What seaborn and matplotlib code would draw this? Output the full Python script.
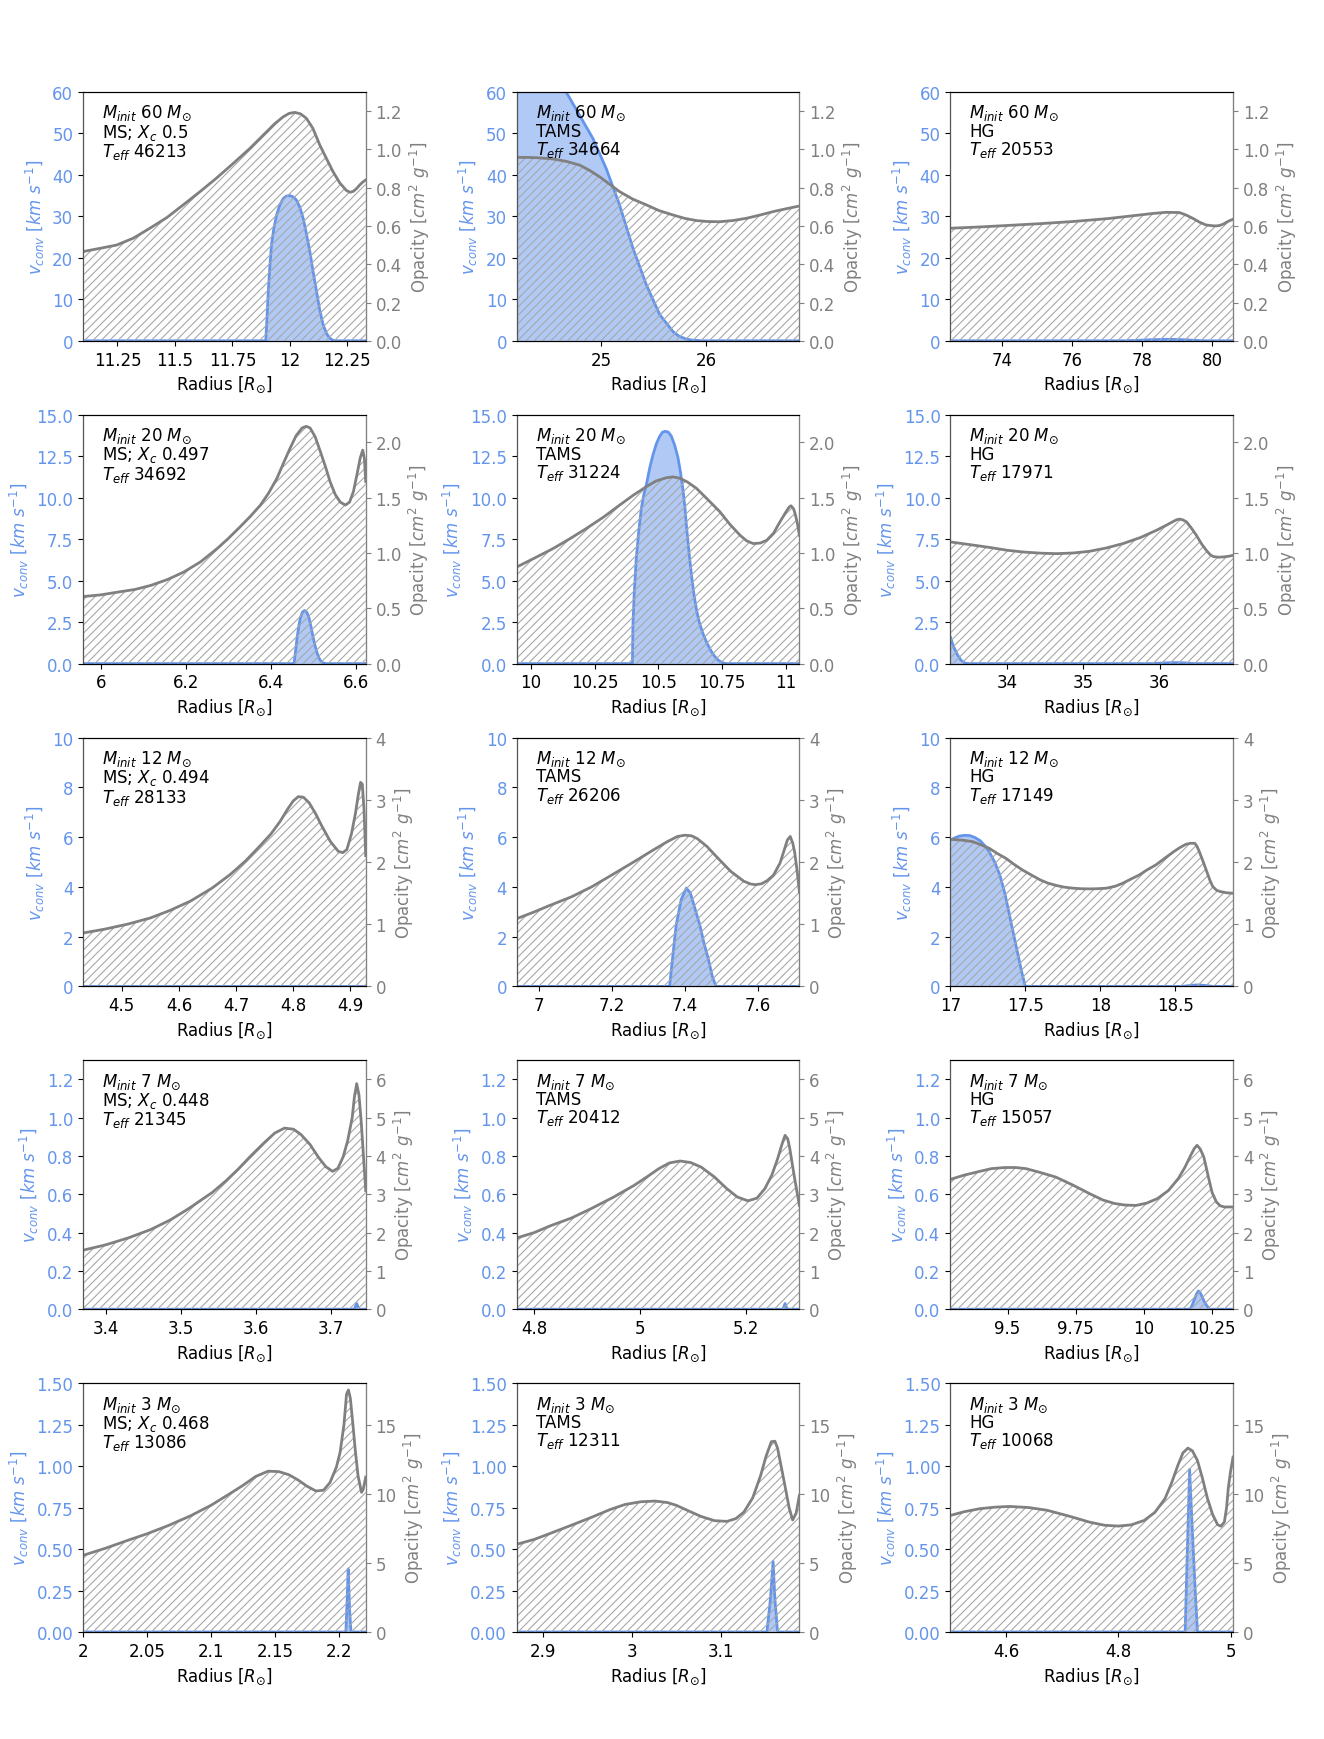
import matplotlib
matplotlib.use("Agg")
import matplotlib.pyplot as plt
import seaborn as sns
from matplotlib.ticker import FuncFormatter

# ---------------- data ----------------
# Row 1: 60 Msun
A1_rk = [11.10, 11.174, 11.246, 11.319, 11.391, 11.464, 11.536, 11.609, 11.68, 11.754, 11.826, 11.862, 11.899, 11.935, 11.971, 11.997, 12.022, 12.047, 12.072, 12.10, 12.13, 12.16, 12.188, 12.217, 12.246, 12.262, 12.275, 12.29, 12.304, 12.318, 12.33]
A1_k = [0.466, 0.483, 0.50, 0.536, 0.588, 0.643, 0.71, 0.779, 0.849, 0.927, 1.005, 1.048, 1.092, 1.135, 1.17, 1.188, 1.193, 1.185, 1.162, 1.11, 1.023, 0.95, 0.883, 0.825, 0.785, 0.776, 0.78, 0.795, 0.814, 0.83, 0.84]
A1_rv = [11.10, 11.895, 11.90, 11.906, 11.913, 11.92, 11.93, 11.942, 11.956, 11.971, 11.985, 12.0, 12.015, 12.029, 12.044, 12.058, 12.072, 12.087, 12.101, 12.116, 12.13, 12.145, 12.16, 12.174, 12.187, 12.2, 12.33]
A1_v = [0, 0, 5.0, 11.9, 18.0, 23.1, 27.0, 30.3, 32.7, 34.3, 34.9, 35.0, 34.7, 33.9, 32.1, 29.5, 25.8, 21.5, 16.7, 11.9, 7.4, 3.8, 1.7, 0.6, 0.15, 0, 0]

A2_rk = [24.197, 24.3, 24.4, 24.54, 24.67, 24.794, 24.89, 24.984, 25.08, 25.175, 25.3, 25.429, 25.55, 25.683, 25.79, 25.905, 26.01, 26.127, 26.25, 26.381, 26.51, 26.635, 26.76, 26.883]
A2_k = [0.958, 0.958, 0.956, 0.95, 0.937, 0.918, 0.89, 0.857, 0.818, 0.779, 0.74, 0.71, 0.68, 0.657, 0.64, 0.628, 0.623, 0.622, 0.628, 0.64, 0.657, 0.675, 0.69, 0.704]
A2_rv = [24.197, 24.4, 24.55, 24.667, 24.794, 24.921, 25.048, 25.175, 25.302, 25.429, 25.556, 25.683, 25.74, 25.81, 25.87, 25.97, 26.883]
A2_v = [74, 68, 63.5, 60, 54.4, 48.8, 41.5, 32.7, 22.3, 13.5, 6.3, 2.2, 1.1, 0.4, 0.15, 0, 0]

A3_rk = [72.53, 73.3, 74.12, 75.1, 76.02, 77.0, 77.92, 78.3, 78.68, 79.06, 79.25, 79.44, 79.63, 79.82, 80.0, 80.1, 80.2, 80.32, 80.44, 80.59]
A3_k = [0.588, 0.594, 0.602, 0.612, 0.623, 0.638, 0.657, 0.665, 0.671, 0.67, 0.657, 0.64, 0.62, 0.605, 0.601, 0.60, 0.602, 0.61, 0.623, 0.635]
A3_rv = [72.53, 77.5, 77.9, 78.2, 78.5, 78.7, 78.95, 79.2, 79.5, 79.8, 80.59]
A3_v = [0, 0, 0.12, 0.25, 0.32, 0.35, 0.33, 0.25, 0.1, 0, 0]

# Row 2: 20 Msun
B1_rk = [5.958, 5.999, 6.038, 6.08, 6.117, 6.157, 6.195, 6.235, 6.274, 6.30, 6.328, 6.352, 6.376, 6.395, 6.415, 6.43, 6.446, 6.46, 6.474, 6.484, 6.493, 6.505, 6.517, 6.53, 6.54, 6.552, 6.564, 6.576, 6.586, 6.595, 6.604, 6.611, 6.617, 6.621, 6.624]
B1_k = [0.606, 0.621, 0.645, 0.67, 0.706, 0.76, 0.827, 0.92, 1.04, 1.13, 1.236, 1.33, 1.433, 1.54, 1.676, 1.81, 1.948, 2.06, 2.13, 2.145, 2.13, 2.05, 1.918, 1.77, 1.645, 1.53, 1.46, 1.433, 1.46, 1.555, 1.72, 1.858, 1.93, 1.85, 1.645]
B1_rv = [5.958, 6.455, 6.459, 6.462, 6.466, 6.47, 6.475, 6.48, 6.485, 6.49, 6.495, 6.50, 6.505, 6.51, 6.515, 6.52, 6.525, 6.53, 6.624]
B1_v = [0, 0, 0.8, 1.5, 2.2, 2.75, 3.1, 3.2, 3.1, 2.8, 2.25, 1.6, 1.05, 0.6, 0.28, 0.1, 0.03, 0, 0]

B2_rk = [9.944, 10.015, 10.086, 10.15, 10.217, 10.285, 10.348, 10.40, 10.453, 10.49, 10.531, 10.557, 10.584, 10.615, 10.649, 10.695, 10.741, 10.78, 10.82, 10.846, 10.872, 10.90, 10.925, 10.952, 10.977, 11.0, 11.013, 11.02, 11.03, 11.036, 11.045, 11.053]
B2_k = [0.873, 0.955, 1.039, 1.125, 1.221, 1.325, 1.433, 1.52, 1.60, 1.65, 1.68, 1.688, 1.676, 1.64, 1.585, 1.48, 1.373, 1.26, 1.161, 1.11, 1.085, 1.09, 1.115, 1.18, 1.282, 1.37, 1.415, 1.427, 1.40, 1.358, 1.27, 1.16]
B2_rv = [9.944, 10.398, 10.40, 10.405, 10.413, 10.423, 10.433, 10.443, 10.453, 10.466, 10.479, 10.492, 10.505, 10.516, 10.527, 10.539, 10.551, 10.564, 10.577, 10.587, 10.597, 10.604, 10.61, 10.62, 10.63, 10.64, 10.65, 10.66, 10.675, 10.69, 10.705, 10.72, 10.735, 10.75, 10.765, 11.053]
B2_v = [0, 0, 2.3, 4.2, 6.3, 8.0, 9.35, 10.2, 10.8, 11.8, 12.6, 13.25, 13.7, 13.95, 14.0, 13.95, 13.7, 13.15, 12.4, 11.5, 10.4, 9.4, 8.3, 6.7, 5.3, 4.1, 3.2, 2.5, 1.8, 1.25, 0.8, 0.45, 0.2, 0.06, 0, 0]

B3_rk = [33.26, 33.5, 33.775, 34.0, 34.21, 34.45, 34.65, 34.87, 35.08, 35.3, 35.52, 35.75, 35.96, 36.07, 36.17, 36.22, 36.26, 36.30, 36.35, 36.41, 36.48, 36.55, 36.61, 36.66, 36.70, 36.77, 36.83, 36.90, 36.96]
B3_k = [1.10, 1.077, 1.05, 1.025, 1.009, 0.998, 0.994, 1.0, 1.015, 1.045, 1.085, 1.14, 1.206, 1.245, 1.282, 1.30, 1.306, 1.30, 1.282, 1.23, 1.16, 1.08, 1.024, 0.985, 0.968, 0.962, 0.964, 0.97, 0.979]
B3_rv = [33.26, 33.3, 33.35, 33.4, 33.45, 33.5, 35.9, 36.05, 36.2, 36.33, 36.45, 36.96]
B3_v = [1.6, 1.05, 0.55, 0.2, 0.03, 0, 0, 0.04, 0.06, 0.04, 0, 0]

# Row 3: 12 Msun
C1_rk = [4.432, 4.47, 4.51, 4.55, 4.584, 4.62, 4.658, 4.69, 4.717, 4.74, 4.761, 4.777, 4.791, 4.80, 4.809, 4.818, 4.828, 4.839, 4.85, 4.865, 4.879, 4.887, 4.894, 4.902, 4.909, 4.914, 4.918, 4.921, 4.924, 4.927]
C1_k = [0.858, 0.92, 1.0, 1.10, 1.22, 1.37, 1.58, 1.80, 2.02, 2.24, 2.45, 2.65, 2.86, 2.98, 3.05, 3.04, 2.95, 2.78, 2.58, 2.33, 2.17, 2.15, 2.20, 2.45, 2.78, 3.08, 3.28, 3.25, 2.85, 2.10]
C1_rv = [4.432, 4.927]
C1_v = [0, 0]

C2_rk = [6.94, 6.985, 7.03, 7.09, 7.145, 7.20, 7.26, 7.31, 7.353, 7.38, 7.40, 7.418, 7.434, 7.46, 7.492, 7.525, 7.561, 7.58, 7.593, 7.61, 7.625, 7.642, 7.66, 7.672, 7.68, 7.688, 7.695, 7.70, 7.707, 7.713]
C2_k = [1.088, 1.19, 1.30, 1.44, 1.60, 1.79, 2.0, 2.18, 2.33, 2.41, 2.43, 2.42, 2.375, 2.25, 2.05, 1.85, 1.69, 1.645, 1.635, 1.65, 1.70, 1.786, 1.98, 2.20, 2.35, 2.41, 2.30, 2.16, 1.85, 1.517]
C2_rv = [6.94, 7.358, 7.366, 7.376, 7.39, 7.404, 7.415, 7.43, 7.441, 7.452, 7.464, 7.475, 7.485, 7.713]
C2_v = [0, 0, 1.1, 2.45, 3.5, 3.95, 3.75, 3.0, 2.45, 1.75, 1.1, 0.4, 0, 0]

C3_rk = [17.0, 17.08, 17.15, 17.2, 17.26, 17.31, 17.37, 17.42, 17.48, 17.54, 17.6, 17.65, 17.71, 17.76, 17.82, 17.87, 17.93, 17.98, 18.04, 18.1, 18.15, 18.2, 18.26, 18.31, 18.37, 18.43, 18.49, 18.53, 18.57, 18.60, 18.63, 18.645, 18.66, 18.685, 18.71, 18.73, 18.75, 18.775, 18.80, 18.84, 18.885]
C3_k = [2.364, 2.35, 2.326, 2.28, 2.219, 2.14, 2.059, 1.97, 1.872, 1.79, 1.711, 1.66, 1.62, 1.595, 1.578, 1.57, 1.567, 1.57, 1.578, 1.61, 1.658, 1.72, 1.791, 1.87, 1.952, 2.06, 2.166, 2.23, 2.283, 2.30, 2.30, 2.25, 2.166, 2.01, 1.845, 1.71, 1.604, 1.545, 1.524, 1.505, 1.497]
C3_rv = [17.0, 17.03, 17.06, 17.095, 17.13, 17.165, 17.2, 17.23, 17.26, 17.295, 17.33, 17.365, 17.4, 17.425, 17.45, 17.475, 17.5, 18.55, 18.6, 18.65, 18.7, 18.75, 18.885]
C3_v = [5.87, 5.97, 6.04, 6.07, 6.06, 5.98, 5.85, 5.65, 5.4, 5.0, 4.48, 3.7, 2.7, 2.0, 1.3, 0.6, 0, 0, 0.04, 0.06, 0.04, 0, 0]

# Row 4: 7 Msun
D1_rk = [3.37, 3.40, 3.43, 3.46, 3.486, 3.51, 3.542, 3.56, 3.576, 3.593, 3.61, 3.625, 3.638, 3.65, 3.66, 3.672, 3.683, 3.693, 3.702, 3.709, 3.716, 3.722, 3.728, 3.731, 3.734, 3.737, 3.74, 3.743, 3.746]
D1_k = [1.54, 1.68, 1.86, 2.08, 2.33, 2.62, 3.05, 3.35, 3.65, 4.0, 4.33, 4.6, 4.73, 4.70, 4.56, 4.30, 3.97, 3.72, 3.60, 3.68, 3.98, 4.40, 5.00, 5.55, 5.89, 5.60, 4.90, 4.00, 3.10]
D1_rv = [3.37, 3.731, 3.734, 3.737, 3.746]
D1_v = [0, 0, 0.03, 0, 0]

D2_rk = [4.767, 4.80, 4.829, 4.87, 4.908, 4.95, 4.988, 5.012, 5.035, 5.055, 5.075, 5.095, 5.115, 5.14, 5.163, 5.183, 5.203, 5.22, 5.235, 5.248, 5.259, 5.267, 5.273, 5.278, 5.282, 5.29, 5.30]
D2_k = [1.86, 2.0, 2.17, 2.38, 2.63, 2.93, 3.23, 3.45, 3.67, 3.82, 3.87, 3.83, 3.71, 3.45, 3.15, 2.93, 2.83, 2.90, 3.15, 3.50, 3.93, 4.30, 4.54, 4.45, 4.19, 3.50, 2.71]
D2_rv = [4.767, 5.269, 5.273, 5.277, 5.30]
D2_v = [0, 0, 0.03, 0, 0]

D3_rk = [9.29, 9.34, 9.398, 9.44, 9.49, 9.53, 9.568, 9.62, 9.677, 9.74, 9.80, 9.85, 9.893, 9.93, 9.971, 10.01, 10.05, 10.09, 10.126, 10.15, 10.172, 10.185, 10.195, 10.207, 10.22, 10.235, 10.25, 10.266, 10.28, 10.296, 10.327]
D3_k = [3.39, 3.50, 3.60, 3.67, 3.70, 3.70, 3.67, 3.57, 3.45, 3.24, 3.02, 2.85, 2.76, 2.72, 2.71, 2.77, 2.89, 3.10, 3.41, 3.70, 4.02, 4.20, 4.28, 4.18, 3.97, 3.50, 3.05, 2.80, 2.70, 2.67, 2.67]
D3_rv = [9.29, 10.17, 10.178, 10.185, 10.193, 10.2, 10.207, 10.215, 10.223, 10.23, 10.24, 10.327]
D3_v = [0, 0, 0.025, 0.05, 0.08, 0.095, 0.085, 0.06, 0.035, 0.02, 0, 0]

# Row 5: 3 Msun
E1_rk = [2.0, 2.018, 2.035, 2.05, 2.067, 2.084, 2.10, 2.113, 2.125, 2.135, 2.1447, 2.153, 2.161, 2.168, 2.175, 2.182, 2.188, 2.193, 2.198, 2.201, 2.204, 2.206, 2.2075, 2.209, 2.211, 2.213, 2.215, 2.2177, 2.219, 2.221]
E1_k = [5.54, 6.07, 6.63, 7.10, 7.71, 8.40, 9.16, 9.90, 10.60, 11.25, 11.63, 11.60, 11.37, 11.0, 10.55, 10.2, 10.25, 10.8, 11.9, 13.0, 15.0, 17.2, 17.5, 16.9, 15.0, 13.0, 11.3, 10.1, 10.3, 11.2]
E1_rv = [2.0, 2.2055, 2.2065, 2.2073, 2.2085, 2.2095, 2.221]
E1_v = [0, 0, 0.2, 0.38, 0.12, 0, 0]

E2_rk = [2.87, 2.89, 2.907, 2.93, 2.955, 2.975, 2.992, 3.01, 3.026, 3.04, 3.05, 3.065, 3.078, 3.093, 3.107, 3.117, 3.126, 3.136, 3.145, 3.151, 3.157, 3.161, 3.164, 3.168, 3.173, 3.177, 3.181, 3.185, 3.1886]
E2_k = [6.34, 6.70, 7.11, 7.68, 8.31, 8.85, 9.22, 9.42, 9.47, 9.36, 9.16, 8.72, 8.35, 8.05, 8.0, 8.2, 8.67, 9.7, 11.33, 12.7, 13.76, 13.8, 13.3, 12.0, 10.36, 9.0, 8.1, 8.6, 9.88]
E2_rv = [2.87, 3.152, 3.156, 3.159, 3.161, 3.164, 3.1886]
E2_v = [0, 0, 0.2, 0.425, 0.2, 0, 0]

E3_rk = [4.5, 4.525, 4.553, 4.58, 4.606, 4.64, 4.673, 4.71, 4.748, 4.775, 4.80, 4.823, 4.846, 4.865, 4.883, 4.895, 4.906, 4.915, 4.924, 4.932, 4.941, 4.95, 4.959, 4.968, 4.977, 4.983, 4.989, 4.993, 4.996, 5.0, 5.0045]
E3_k = [8.43, 8.70, 8.92, 9.03, 9.08, 9.0, 8.80, 8.40, 7.95, 7.72, 7.66, 7.75, 8.07, 8.65, 9.64, 10.8, 12.05, 12.95, 13.3, 13.1, 12.4, 11.1, 9.64, 8.5, 7.76, 7.65, 7.95, 9.0, 10.4, 11.6, 12.65]
E3_rv = [4.5, 4.919, 4.923, 4.927, 4.932, 4.937, 4.941, 5.0045]
E3_v = [0, 0, 0.5, 0.98, 0.6, 0.25, 0, 0]

masses = ["60", "20", "12", "7", "3"]
stages = ["MS", "TAMS", "HG"]
xc_values = ["0.5", "0.497", "0.494", "0.448", "0.468"]
teff_values = [
    ["46213", "34664", "20553"],
    ["34692", "31224", "17971"],
    ["28133", "26206", "17149"],
    ["21345", "20412", "15057"],
    ["13086", "12311", "10068"],
]
x_ticks = [
    [[11.25, 11.5, 11.75, 12, 12.25], [25, 26], [74, 76, 78, 80]],
    [[6, 6.2, 6.4, 6.6], [10, 10.25, 10.5, 10.75, 11], [34, 35, 36]],
    [[4.5, 4.6, 4.7, 4.8, 4.9], [7, 7.2, 7.4, 7.6], [17, 17.5, 18, 18.5]],
    [[3.4, 3.5, 3.6, 3.7], [4.8, 5, 5.2], [9.5, 9.75, 10, 10.25]],
    [[2, 2.05, 2.1, 2.15, 2.2], [2.9, 3, 3.1], [4.6, 4.8, 5]],
]
v_ticks = [
    [0, 10, 20, 30, 40, 50, 60],
    [0.0, 2.5, 5.0, 7.5, 10.0, 12.5, 15.0],
    [0, 2, 4, 6, 8, 10],
    [0.0, 0.2, 0.4, 0.6, 0.8, 1.0, 1.2],
    [0.0, 0.25, 0.5, 0.75, 1.0, 1.25, 1.5],
]
k_ticks = [
    [0.0, 0.2, 0.4, 0.6, 0.8, 1.0, 1.2],
    [0.0, 0.5, 1.0, 1.5, 2.0],
    [0, 1, 2, 3, 4],
    [0, 1, 2, 3, 4, 5, 6],
    [0, 5, 10, 15],
]
v_top = [60, 15, 10, 1.3, 1.5]
k_top = [1.3, 2.25, 4, 6.5, 18]

panels = [
    [(A1_rk, A1_k, A1_rv, A1_v), (A2_rk, A2_k, A2_rv, A2_v), (A3_rk, A3_k, A3_rv, A3_v)],
    [(B1_rk, B1_k, B1_rv, B1_v), (B2_rk, B2_k, B2_rv, B2_v), (B3_rk, B3_k, B3_rv, B3_v)],
    [(C1_rk, C1_k, C1_rv, C1_v), (C2_rk, C2_k, C2_rv, C2_v), (C3_rk, C3_k, C3_rv, C3_v)],
    [(D1_rk, D1_k, D1_rv, D1_v), (D2_rk, D2_k, D2_rv, D2_v), (D3_rk, D3_k, D3_rv, D3_v)],
    [(E1_rk, E1_k, E1_rv, E1_v), (E2_rk, E2_k, E2_rv, E2_v), (E3_rk, E3_k, E3_rv, E3_v)],
]

# ---------------- plot ----------------
plt.rcParams['font.family'] = ['DejaVu Sans']
plt.rcParams['font.size'] = 12
plt.rcParams['hatch.linewidth'] = 0.8

BLUE = 'cornflowerblue'
GREY = 'grey'

fig, axes = plt.subplots(5, 3, figsize=(13.24, 17.4), dpi=100)
fig.subplots_adjust(left=0.0627, right=0.9313, bottom=0.0615, top=0.9466,
                    wspace=0.534, hspace=0.297)

gfmt = FuncFormatter(lambda val, pos: f"{val:g}")

for i in range(5):
    for j in range(3):
        ax = axes[i, j]
        rk, k, rv, v = panels[i][j]
        ax2 = ax.twinx()

        # convective velocity
        ax.fill_between(rv, v, 0, color=BLUE, alpha=0.5, lw=0)
        sns.lineplot(x=rv, y=v, ax=ax, color=BLUE, lw=2, estimator=None, sort=False)

        # opacity
        ax2.fill_between(rk, k, 0, facecolor='none', edgecolor='#a8a8a8',
                         hatch='////', lw=0)
        sns.lineplot(x=rk, y=k, ax=ax2, color=GREY, lw=2, estimator=None, sort=False)

        xmin = min(rk[0], rv[0])
        xmax = max(rk[-1], rv[-1])
        ax.set_xlim(xmin, xmax)
        ax.set_ylim(0, v_top[i])
        ax2.set_ylim(0, k_top[i])
        ax.set_xticks(x_ticks[i][j])
        ax.xaxis.set_major_formatter(gfmt)
        ax.set_yticks(v_ticks[i])
        ax2.set_yticks(k_ticks[i])

        ax.tick_params(axis='y', labelcolor=BLUE, labelsize=12)
        ax.tick_params(axis='x', labelsize=12)
        ax2.tick_params(axis='y', colors=GREY, labelsize=12)
        ax2.spines['right'].set_color(GREY)
        ax2.spines['left'].set_color('#555555')

        ax.set_xlabel(r'Radius $[R_{\odot}]$', fontsize=12)
        ax.set_ylabel(r'$v_{conv}\ [km\ s^{-1}]$', color=BLUE, fontsize=12)
        ax2.set_ylabel(r'Opacity $[cm^2\ g^{-1}]$', color=GREY, fontsize=12)

        if j == 0:
            line2 = r'MS; $X_c$ ' + xc_values[i]
        else:
            line2 = stages[j]
        label = (r'$M_{init}$ ' + masses[i] + r' $M_{\odot}$' + '\n' + line2 +
                 '\n' + r'$T_{eff}$ ' + teff_values[i][j])
        ax2.text(0.067, 0.955, label, transform=ax.transAxes, ha='left', va='top',
                 fontsize=12, linespacing=0.95, color='black')

fig.savefig('out.png', dpi=100)
